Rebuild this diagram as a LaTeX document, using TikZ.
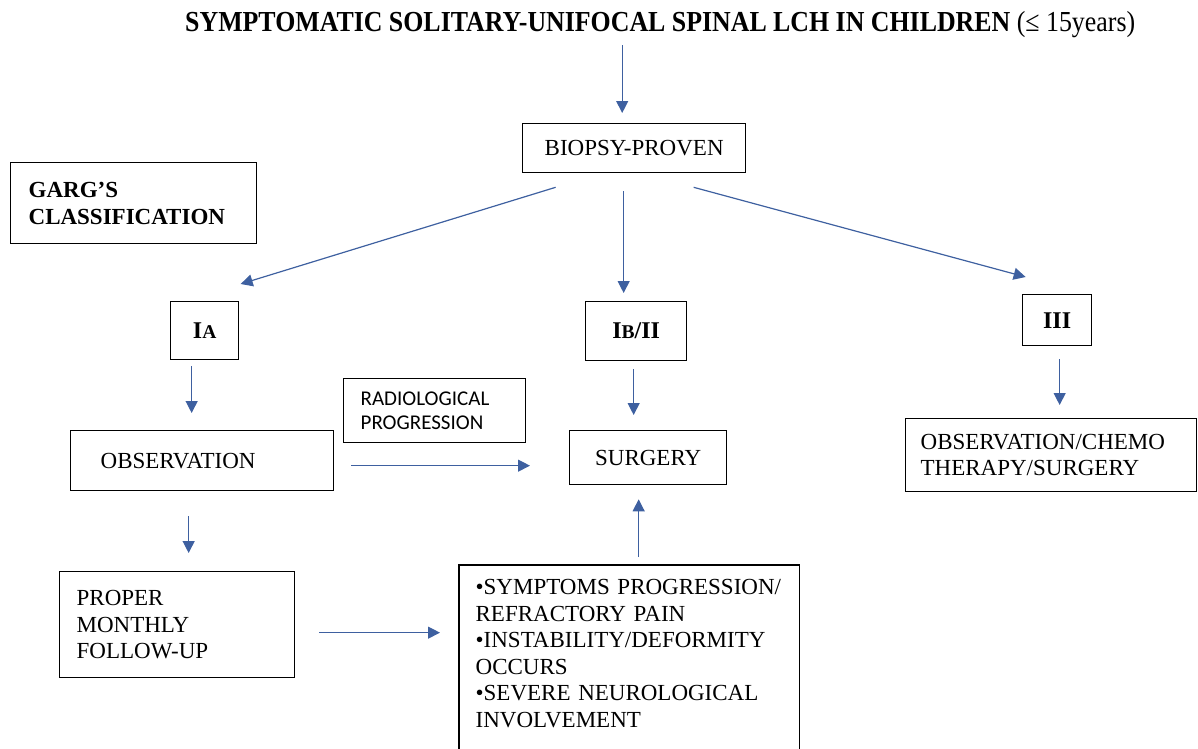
\documentclass[tikz,border=0pt]{standalone}
\usepackage{fontspec}
\setmainfont{Liberation Serif}
\newfontfamily\calibrifont{Carlito}
\usetikzlibrary{arrows.meta}
\definecolor{arrowblue}{RGB}{62,96,160}
\newcommand\smc[1]{{\fontsize{19.5}{19.5}\selectfont #1}}

\begin{document}
\begin{tikzpicture}[x=1pt,y=-1pt,
    box/.style={draw,line width=1.3pt,anchor=north west,inner sep=0pt,font=\fontsize{23}{26.5}\selectfont},
    roman/.style={font=\fontsize{24}{24}\selectfont\bfseries},
    arr/.style={->,>={Triangle[width=12pt,length=12pt]},draw=arrowblue,line width=1.2pt}]
    \useasboundingbox (0,0) rectangle (1198,748);
    \clip (0,0) rectangle (1198,748);
    \node[anchor=base west,inner sep=0pt](A) at (185,31) {\resizebox{950pt}{\height}{\fontsize{29}{29}\selectfont\bfseries SYMPTOMATIC SOLITARY-UNIFOCAL SPINAL LCH IN CHILDREN \mdseries(≤ 15years)}};
    \node[box,minimum width=223pt,minimum height=49pt](B) at (522,123) {BIOPSY-PROVEN};
    \node[box,text width=210pt,inner xsep=18pt,minimum height=81pt,align=left,font=\fontsize{23}{27}\selectfont\bfseries](G) at (10,162) {GARG’S\\CLASSIFICATION};
    \node[box,roman,minimum width=68pt,minimum height=58pt](C) at (170,301) {I\smc{A}};
    \node[box,roman,minimum width=101pt,minimum height=59pt](D) at (585,301) {I\smc{B}/II};
    \node[box,roman,minimum width=69pt,minimum height=51pt](E) at (1022,294) {III};
    \node[box,text width=203pt,inner xsep=30pt,minimum height=60pt,align=left](F) at (70,430) {OBSERVATION};
    \node[box,text width=148pt,inner xsep=17pt,minimum height=64pt,align=left,font=\calibrifont\fontsize{21}{24}\selectfont](R) at (343,378) {RADIOLOGICAL\\PROGRESSION};
    \node[box,minimum width=157pt,minimum height=54pt](S) at (569,430) {SURGERY};
    \node[box,text width=261pt,inner xsep=15pt,minimum height=73pt,align=left](H) at (905,418) {OBSERVATION/CHEMO\\THERAPY/SURGERY};
    \node[box,text width=201pt,inner xsep=17pt,minimum height=106pt,align=left](P) at (59,571) {PROPER\\MONTHLY\\FOLLOW-UP};
    \node[box,draw=none,text width=307pt,inner xsep=16pt,inner ysep=14pt,align=left](M) at (459,565) {•SYMPTOMS PROGRESSION/\\REFRACTORY PAIN\\•INSTABILITY/DEFORMITY\\OCCURS\\•SEVERE NEUROLOGICAL\\INVOLVEMENT};
    \draw[line width=1.3pt] (M.north west) rectangle ([yshift=-30pt]M.south east);
    \coordinate[shift={(-38,8)}] (a) at (A.south);
    \coordinate[shift={(-78.5,14)}] (b1) at (B.south);
    \coordinate[shift={(36,-17)}] (c1) at (C.north);
    \coordinate[shift={(-10.5,18)}] (b2) at (B.south);
    \coordinate[shift={(59.5,14)}] (b3) at (B.south);
    \coordinate[shift={(-31.5,-17)}] (e1) at (E.north);
    \coordinate[shift={(-13,6)}] (c) at (C.south);
    \coordinate[shift={(-2.5,8)}] (d) at (D.south);
    \coordinate[shift={(2.5,13)}] (e) at (E.south);
    \coordinate[shift={(-13.5,25)}] (f) at (F.south);
    \coordinate[shift={(17,5)}] (g) at (F.east);
    \coordinate[shift={(24,8)}] (p) at (P.east);
    \coordinate[shift={(9.5,-8)}] (m) at (M.north);
    \draw[arr,shorten >=10pt] (a) -- (a |- B.north);
    \draw[arr] (b1) -- (c1);
    \draw[arr,shorten >=8pt] (b2) -- (b2 |- D.north);
    \draw[arr] (b3) -- (e1);
    \draw[arr,shorten >=17pt] (c) -- (c |- F.north);
    \draw[arr,shorten >=15pt] (d) -- (d |- S.north);
    \draw[arr,shorten >=13pt] (e) -- (e |- H.north);
    \draw[arr,shorten >=18pt] (f) -- (f |- P.north);
    \draw[arr,shorten >=39pt] (g) -- (g -| S.west);
    \draw[arr,shorten >=19pt] (p) -- (p -| M.west);
    \draw[arr,shorten >=14pt] (m) -- (m |- S.south);
\end{tikzpicture}
\end{document}
